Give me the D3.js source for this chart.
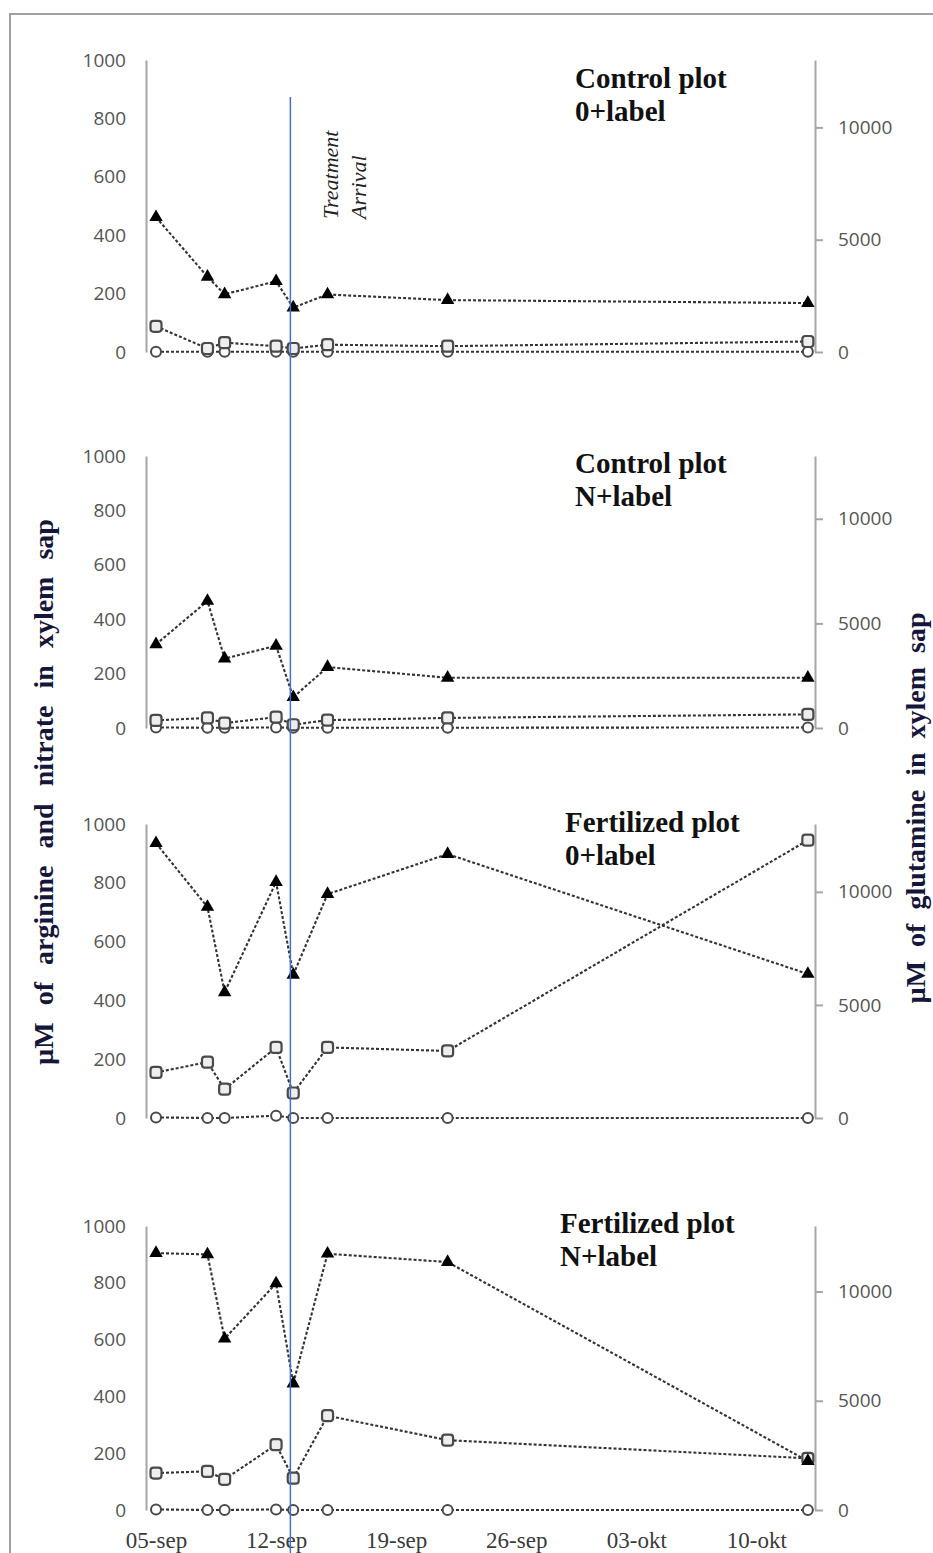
<!DOCTYPE html>
<html>
<head>
<meta charset="utf-8">
<script src="https://cdn.jsdelivr.net/npm/d3@7/dist/d3.min.js"></script>
<style>
body { margin: 0; background: #fff; }
.axis text { font-family: 'Open Sans', sans-serif; font-size: 19px; fill: #555; }
.axis path, .axis line { stroke: #a6a6a6; stroke-width: 2px; }
.xaxis text { font-family: 'Liberation Serif', serif; font-size: 23px; fill: #3a3a3a; }
.title { font-family: 'Liberation Serif', serif; font-weight: bold; font-size: 29px; fill: #111; }
.ytitle { font-family: 'Liberation Serif', serif; font-weight: bold; font-size: 28px; fill: #16163a; }
.series { fill: none; stroke: #333; stroke-width: 2.1px; stroke-dasharray: 3,2; }
</style>
</head>
<body>
<div id="chart"></div>
<script>
var parseDate = d3.timeParse('%Y-%m-%d %H:%M');

// sampling days (no year shown in the figure)
var sampleDates = ['2013-09-05 00:00', '2013-09-08 00:00', '2013-09-09 00:00', '2013-09-12 00:00',
                   '2013-09-13 00:00', '2013-09-15 00:00', '2013-09-22 00:00', '2013-10-13 00:00'];
var xTickDates = ['2013-09-05 00:00', '2013-09-12 00:00', '2013-09-19 00:00',
                  '2013-09-26 00:00', '2013-10-03 00:00', '2013-10-10 00:00'];
var xTickLabels = ['05-sep', '12-sep', '19-sep', '26-sep', '03-okt', '10-okt'];
var treatmentDate = '2013-09-12 20:00';

var plotNames = ['Control plot', 'Control plot', 'Fertilized plot', 'Fertilized plot'];
var labelNames = ['0+label', 'N+label', '0+label', 'N+label'];

// glutamine, right axis (triangles)
var glutamine = [
  [6000, 3350, 2570, 3150, 1980, 2560, 2310, 2180],
  [4000, 6070, 3320, 3930, 1470, 2910, 2400, 2400],
  [12150, 9330, 5560, 10430, 6330, 9900, 11670, 6370],
  [11760, 11700, 7840, 10370, 5790, 11730, 11350, 2240]
];
// arginine, left axis (squares)
var arginine = [
  [88, 12, 32, 20, 12, 25, 20, 36],
  [28, 37, 18, 40, 12, 29, 37, 50],
  [155, 190, 98, 240, 85, 240, 228, 945],
  [130, 136, 108, 230, 112, 332, 246, 182]
];
// nitrate, left axis (circles)
var nitrate = [
  [1, 1, 1, 1, 1, 1, 1, 1],
  [2, 1, 1, 2, 1, 1, 1, 2],
  [2, 0, 0, 8, 0, 0, 0, 0],
  [2, 0, 0, 2, 0, 0, 0, 0]
];

var leftTicks = [0, 200, 400, 600, 800, 1000];
var rightTicks = [0, 5000, 10000];

// layout
var width = 933, height = 1553;
var left = 146, right = 815;
var panelTops = [60, 456, 824, 1226];
var panelBottoms = [352, 728, 1118, 1510];
var titleX = [575, 575, 565, 560];
var titleY = [88, 473, 832, 1233];

var svg = d3.select('#chart').append('svg')
  .attr('width', width)
  .attr('height', height)
  .style('display', 'block');

svg.append('rect')
  .attr('x', 10).attr('y', 14)
  .attr('width', 940).attr('height', 1600)
  .attr('fill', '#fff')
  .attr('stroke', '#a0a0a0')
  .attr('stroke-width', 2);

var x = d3.scaleTime()
  .domain([parseDate('2013-09-04 10:00'), parseDate('2013-10-13 10:00')])
  .range([left, right]);

var dates = sampleDates.map(parseDate);

function drawPanel(p) {
  var g = svg.append('g').attr('class', 'panel');
  var yLeft = d3.scaleLinear().domain([0, 1000]).range([panelBottoms[p], panelTops[p]]);
  var yRight = d3.scaleLinear().domain([0, 13000]).range([panelBottoms[p], panelTops[p]]);

  g.append('g')
    .attr('class', 'axis')
    .attr('transform', 'translate(' + left + ',0)')
    .call(d3.axisLeft(yLeft).tickValues(leftTicks).tickSize(0).tickPadding(20)
      .tickFormat(d3.format('d')));

  g.append('g')
    .attr('class', 'axis')
    .attr('transform', 'translate(' + right + ',0)')
    .call(d3.axisRight(yRight).tickValues(rightTicks).tickSizeInner(8).tickSizeOuter(0)
      .tickPadding(15).tickFormat(d3.format('d')));

  var argData = dates.map(function(d, i) { return { date: d, v: arginine[p][i] }; });
  var nitData = dates.map(function(d, i) { return { date: d, v: nitrate[p][i] }; });
  var glnData = dates.map(function(d, i) { return { date: d, v: glutamine[p][i] }; });

  var lineLeft = d3.line()
    .x(function(d) { return x(d.date); })
    .y(function(d) { return yLeft(d.v); });
  var lineRight = d3.line()
    .x(function(d) { return x(d.date); })
    .y(function(d) { return yRight(d.v); });

  g.append('path').attr('class', 'series').attr('d', lineLeft(nitData));
  g.append('path').attr('class', 'series').attr('d', lineLeft(argData));
  g.append('path').attr('class', 'series').attr('d', lineRight(glnData));

  g.selectAll('circle.nit').data(nitData)
    .enter().append('circle')
    .attr('class', 'nit')
    .attr('cx', function(d) { return x(d.date); })
    .attr('cy', function(d) { return yLeft(d.v); })
    .attr('r', 5)
    .attr('fill', '#fff')
    .attr('stroke', '#4a4a4a')
    .attr('stroke-width', 2);

  g.selectAll('rect.arg').data(argData)
    .enter().append('rect')
    .attr('class', 'arg')
    .attr('x', function(d) { return x(d.date) - 5.5; })
    .attr('y', function(d) { return yLeft(d.v) - 5.5; })
    .attr('width', 11).attr('height', 11)
    .attr('rx', 3)
    .attr('fill', '#eee')
    .attr('stroke', '#4a4a4a')
    .attr('stroke-width', 2.2);

  g.selectAll('path.gln').data(glnData)
    .enter().append('path')
    .attr('class', 'gln')
    .attr('transform', function(d) { return 'translate(' + x(d.date) + ',' + yRight(d.v) + ')'; })
    .attr('d', d3.symbol().type(d3.symbolTriangle).size(78))
    .attr('fill', '#000');

  var t = g.append('text').attr('class', 'title')
    .attr('x', titleX[p]).attr('y', titleY[p]);
  t.append('tspan').attr('x', titleX[p]).text(plotNames[p]);
  t.append('tspan').attr('x', titleX[p]).attr('dy', 33).text(labelNames[p]);

  if (p === 3) {
    var xAxis = g.append('g')
      .attr('class', 'xaxis')
      .attr('transform', 'translate(0,' + 1532 + ')')
      .call(d3.axisBottom(x)
        .tickValues(xTickDates.map(parseDate))
        .tickFormat(function(d, i) { return xTickLabels[i]; })
        .tickSize(0).tickPadding(0));
    xAxis.select('.domain').remove();
    xAxis.selectAll('text').attr('dy', '0.71em').attr('fill', '#3a3a3a');
  }
}

for (var p = 0; p < 4; p++) drawPanel(p);

// treatment arrival marker
var tx = x(parseDate(treatmentDate));
svg.append('line')
  .attr('x1', tx).attr('x2', tx)
  .attr('y1', 97).attr('y2', height)
  .attr('stroke', '#4472c4')
  .attr('stroke-width', 1.5);

var note = svg.append('g')
  .attr('font-family', 'Liberation Serif, serif')
  .attr('font-style', 'italic')
  .attr('font-size', 22)
  .attr('fill', '#222');
note.append('text')
  .attr('transform', 'translate(338,219) rotate(-90)')
  .text('Treatment');
note.append('text')
  .attr('transform', 'translate(366,219) rotate(-90)')
  .text('Arrival');

svg.append('text').attr('class', 'ytitle')
  .attr('transform', 'translate(53,792) rotate(-90)')
  .attr('text-anchor', 'middle')
  .attr('word-spacing', 10)
  .text('µM of arginine and nitrate in xylem sap');

svg.append('text').attr('class', 'ytitle')
  .attr('transform', 'translate(925,808) rotate(-90)')
  .attr('text-anchor', 'middle')
  .attr('word-spacing', 7)
  .text('µM of glutamine in xylem sap');
</script>
</body>
</html>
